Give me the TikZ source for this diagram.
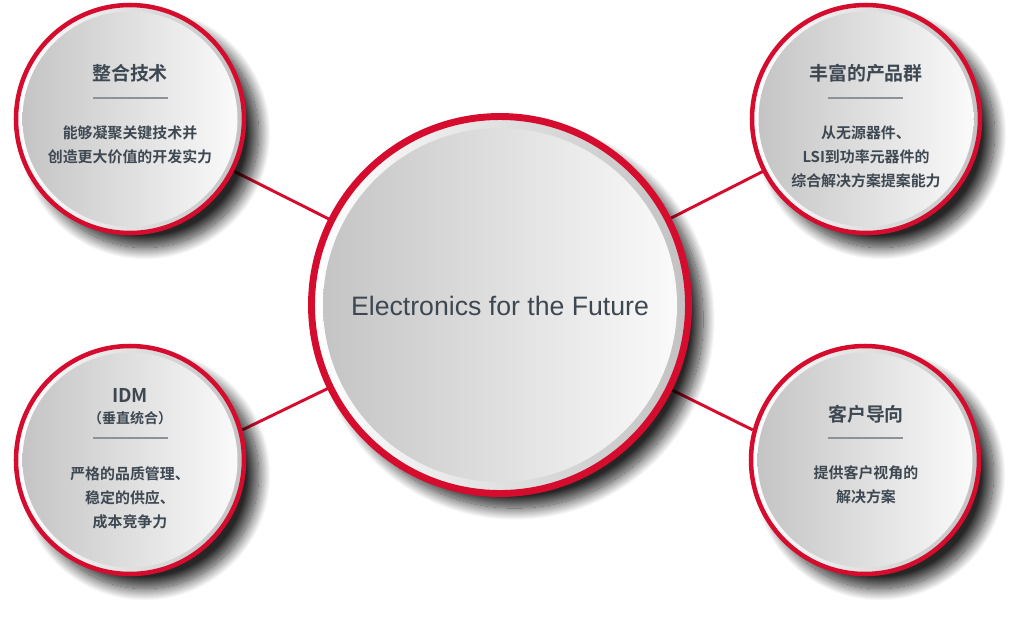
\documentclass[tikz,border=0pt]{standalone}
\usepackage{fontspec}
\setmainfont{Liberation Sans}
\newfontfamily\cjk{Noto Sans CJK SC Bold}
\usetikzlibrary{shadows.blur,backgrounds}
\definecolor{ringred}{RGB}{214,12,46}
\definecolor{ink}{RGB}{62,72,82}
\definecolor{sepgray}{RGB}{140,146,152}
\begin{document}
\begin{tikzpicture}[
x=0.75pt,y=-0.75pt,
bub/.style={%
circle,
draw=ringred,
line width=3.4pt,
left color=white,
right color=black!24,
minimum size=171pt,
blur shadow={shadow xshift=11pt,shadow yshift=-11pt,shadow blur radius=9pt,shadow blur steps=24,shadow opacity=85},
},
hub/.style={%
bub,
line width=5.2pt,
minimum size=282.75pt,
},
disk/.style={%
left color=black!23,
right color=black!2,
},
ttl/.style={%
font=\cjk\fontsize{14.2pt}{17pt}\selectfont,
text=ink,
},
txt/.style={%
font=\cjk\fontsize{11.2pt}{18pt}\selectfont,
text=ink,
align=center,
},
lnk/.style={%
draw=ringred,
line width=2.2pt,
},
sep/.style={%
draw=sepgray,
line width=1.1pt,
}
]

\useasboundingbox(0,0)rectangle(1025,619);

%circles
\node[hub](fut)at(500,305){};
\node[bub](tl)at(130,119){};
\node[bub](tr)at(866,119){};
\node[bub](bl)at(130,460){};
\node[bub](br)at(865,460){};

%links under the shadows
\begin{pgfonlayer}{background}
\draw[lnk](fut.center)--(tl.center);
\draw[lnk](fut.center)--(tr.center);
\draw[lnk](fut.center)--(bl.15);
\draw[lnk](fut.center)--(br.165);
\end{pgfonlayer}

%inner disks
\shade[disk](fut.center)circle(177);
\foreach \n in {tl,tr,bl,br}
\shade[disk](\n.center)circle(107.5);

\node[text=ink,font=\fontsize{20pt}{24pt}\selectfont](futt)at(500,306){Electronics for the Future};

%top left
\node[ttl](tlt)at(130,73){整合技术};
\draw[sep](93,98)--(168,98);
\node[txt](tlx)at(130,145){能够凝聚关键技术并\\创造更大价值的开发实力};

%top right
\node[ttl](trt)at(866,73){丰富的产品群};
\draw[sep](828,98)--(903,98);
\node[txt](trx)at(866,157){从无源器件、\\LSI到功率元器件的\\综合解决方案提案能力};

%bottom left
\node[ttl](blt)at(130,395){IDM};
\node[txt,font=\cjk\fontsize{10.5pt}{13pt}\selectfont](bls)at(130,418){（垂直统合）};
\draw[sep](93,438)--(168,438);
\node[txt](blx)at(130,498){严格的品质管理、\\稳定的供应、\\成本竞争力};

%bottom right
\node[ttl](brt)at(866,414){客户导向};
\draw[sep](828,438)--(903,438);
\node[txt](brx)at(866,485){提供客户视角的\\解决方案};

\end{tikzpicture}
\end{document}
